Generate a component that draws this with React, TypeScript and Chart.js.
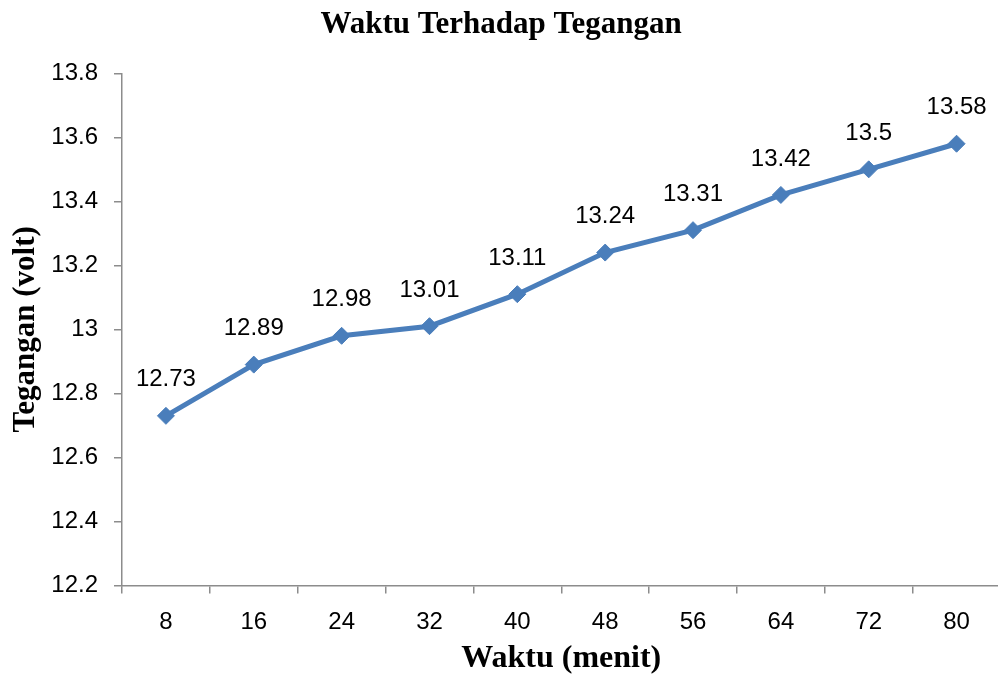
import React, { useEffect, useRef } from "react";
import { Chart, registerables } from "chart.js";

Chart.register(...registerables);

const categories = ["8", "16", "24", "32", "40", "48", "56", "64", "72", "80"];
const voltages = [12.73, 12.89, 12.98, 13.01, 13.11, 13.24, 13.31, 13.42, 13.5, 13.58];
const yTickValues = [12.2, 12.4, 12.6, 12.8, 13, 13.2, 13.4, 13.6, 13.8];

const chartTitle = "Waktu Terhadap Tegangan";
const xTitle = "Waktu (menit)";
const yTitle = "Tegangan (volt)";

const LINE = "#4A7EBB";
const AXIS = "#8C8C8C";
const SANS = "'Liberation Sans', Arial, sans-serif";
const SERIF = "'Liberation Serif', 'Times New Roman', serif";

const dataLabels = {
  id: "dataLabels",
  afterDatasetsDraw(chart: any) {
    const ctx = chart.ctx;
    const meta = chart.getDatasetMeta(0);
    const ds = chart.data.datasets[0];
    ctx.save();
    ctx.font = `24px ${SANS}`;
    ctx.fillStyle = "#000";
    ctx.textAlign = "center";
    ctx.textBaseline = "middle";
    meta.data.forEach((pt: any, i: number) => {
      ctx.fillText(String(ds.data[i]), pt.x, pt.y - 36);
    });
    ctx.restore();
  },
};

export default function App() {
  const ref = useRef<HTMLCanvasElement | null>(null);
  useEffect(() => {
    if (!ref.current) return;
    const chart = new Chart(ref.current, {
      type: "line",
      data: {
        labels: categories,
        datasets: [
          {
            data: voltages,
            borderColor: LINE,
            backgroundColor: LINE,
            borderWidth: 5,
            tension: 0,
            pointStyle: "rectRot",
            pointRadius: 8.5,
            pointBorderWidth: 1,
            pointBackgroundColor: LINE,
            pointBorderColor: LINE,
          },
        ],
      },
      options: {
        responsive: false,
        animation: false,
        devicePixelRatio: 1,
        layout: { padding: { left: 0, right: 8, top: 0, bottom: 0 } },
        plugins: {
          legend: { display: false },
          tooltip: { enabled: false },
          title: {
            display: true,
            text: chartTitle,
            color: "#000",
            font: { family: SERIF, size: 31, weight: "bold", lineHeight: 1.2 },
            padding: { top: 6, bottom: 30.1 },
          },
        },
        scales: {
          x: {
            type: "category",
            offset: true,
            grid: {
              display: true,
              offset: true,
              drawOnChartArea: false,
              drawTicks: true,
              tickLength: 8,
              color: AXIS,
              lineWidth: 1.5,
            },
            border: { display: true, color: AXIS, width: 1.5 },
            ticks: { color: "#000", font: { family: SANS, size: 24 }, padding: 14, maxRotation: 0 },
            title: {
              display: true,
              text: xTitle,
              color: "#000",
              font: { family: SERIF, size: 32, weight: "bold", lineHeight: 1.2 },
              padding: { top: 0, bottom: 0 },
            },
            afterFit: (s: any) => {
              s.height = 92.5;
            },
          },
          y: {
            min: 12.2,
            max: 13.8,
            grid: {
              display: true,
              drawOnChartArea: false,
              drawTicks: true,
              tickLength: 8,
              color: AXIS,
              lineWidth: 1.5,
            },
            border: { display: true, color: AXIS, width: 1.5 },
            afterBuildTicks: (s: any) => {
              s.ticks = yTickValues.map((v) => ({ value: v }));
            },
            ticks: {
              color: "#000",
              font: { family: SANS, size: 24 },
              padding: 16,
              callback: (v: any) => String(Math.round(Number(v) * 10) / 10),
            },
            title: {
              display: true,
              text: yTitle,
              color: "#000",
              font: { family: SERIF, size: 31, weight: "bold", lineHeight: 1.2 },
              padding: { top: 7.4, bottom: 0 },
            },
            afterFit: (s: any) => {
              s.width = 122;
            },
          },
        },
      },
      plugins: [dataLabels],
    } as any);
    return () => chart.destroy();
  }, []);

  return (
    <div style={{ position: "fixed", left: 0, top: 0, width: 998, height: 678, overflow: "hidden", background: "#fff" }}>
      <canvas ref={ref} width={1010} height={678} style={{ display: "block", width: 1010, height: 678 }} />
    </div>
  );
}
